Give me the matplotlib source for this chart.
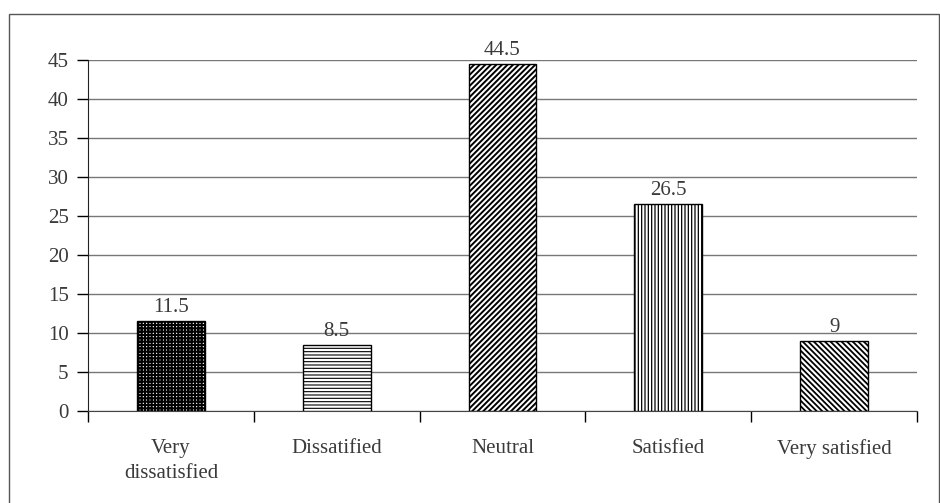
import matplotlib.pyplot as plt
import numpy as np

categories = ["Very\ndissatisfied", "Dissatified", "Neutral", "Satisfied", "Very satisfied"]
values = [11.5, 8.5, 44.5, 26.5, 9]
hatches = ["+++++", "-----", "//////", "|||||", "\\" * 6]
hatch_lw = [1.5, 0.8, 1.4, 0.9, 1.3]
yticks = [0, 5, 10, 15, 20, 25, 30, 35, 40, 45]

plt.rcParams['font.family'] = ['Liberation Serif', 'DejaVu Serif']
txt = "#3a3a3a"
fs = 15

fig = plt.figure(figsize=(9.4, 5.03), dpi=100)
ax = fig.add_axes([88 / 940, 1 - 411 / 503, (917 - 88) / 940, (411 - 60) / 503])

# outer frame around the whole chart
frame = plt.Rectangle((9 / 940, -0.1), (939 - 9) / 940, 1.1 - 14 / 503,
                      transform=fig.transFigure, fill=False, edgecolor="#555555",
                      linewidth=1.0)
fig.patches.append(frame)

x = np.arange(len(values))
# one bar at a time so each gets its own hatch line width
for xi, v, h, lw in zip(x, values, hatches, hatch_lw):
    with plt.rc_context({'hatch.linewidth': lw}):
        ax.bar(xi, v, width=0.41, color="white", edgecolor="black",
               linewidth=1.0, hatch=h, zorder=3)
    ax.text(xi, v + 0.5, f"{v:g}", ha="center", va="bottom", fontsize=fs, color=txt)

ax.set_xlim(-0.5, len(values) - 0.5)
ax.set_ylim(0, 45)
ax.set_yticks(yticks)
ax.set_yticklabels([str(t) for t in yticks], fontsize=fs, color=txt)
ax.tick_params(axis="y", direction="out", length=8, width=1.0, pad=6)
ax.yaxis.grid(True, color="#777777", linewidth=1.0, zorder=0)

# ticks sit between categories, labels under the bars
ax.set_xticks(np.arange(len(values) + 1) - 0.5)
ax.set_xticklabels([])
ax.tick_params(axis="x", direction="out", length=8, width=1.0)
ax.set_xticks(x, minor=True)
ax.set_xticklabels(categories, minor=True, fontsize=fs, color=txt, linespacing=1.45)
ax.tick_params(axis="x", which="minor", length=0, pad=20)

for s in ["top", "right"]:
    ax.spines[s].set_visible(False)
ax.spines["left"].set_color("#222222")
ax.spines["bottom"].set_color("#444444")

plt.savefig("out.png", dpi=100)
